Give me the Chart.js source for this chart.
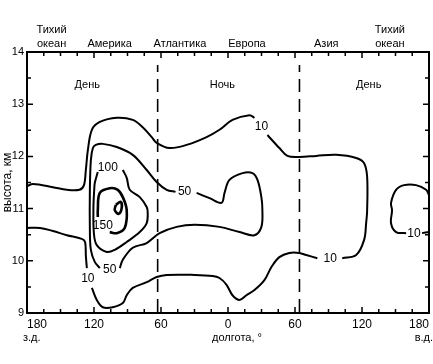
<!DOCTYPE html>
<html>
<head>
<meta charset="utf-8">
<script src="https://cdn.jsdelivr.net/npm/chart.js@4/dist/chart.umd.min.js"></script>
<style>
  html, body { margin: 0; padding: 0; background: #fff; }
  #wrap { width: 433px; height: 364px; }
</style>
</head>
<body>
<div id="wrap"><canvas id="chart" width="433" height="364"></canvas></div>
<script>
// axis ticks
const lonTicks = [-180, -120, -60, 0, 60, 120, 180];
const altTicks = [9, 10, 11, 12, 13, 14];

// labels over the plot
const regionNames = [["Тихий", "океан"], ["Америка"], ["Атлантика"], ["Европа"], ["Азия"], ["Тихий", "океан"]];
const regionLon = [-158, -106, -43, 17, 88, 145];
const dayNight = ["День", "Ночь", "День"];
const dayNightLon = [-126, -5, 126];
const terminatorLon = [-63, 64];

// contour lines [longitude, altitude km], split where the labels sit
const c10a = [[-180, 11.43], [-174.6, 11.47], [-156.8, 11.41], [-144.3, 11.36], [-133, 11.36], [-129, 11.45],
  [-127.3, 11.74], [-125.5, 12.12], [-121.9, 12.51], [-114.8, 12.66], [-99.6, 12.74], [-85.3, 12.7],
  [-76.4, 12.56], [-68.3, 12.37], [-63.9, 12.26], [-52.3, 12.16], [-37.1, 12.22], [-19.2, 12.37],
  [-7.6, 12.51], [4, 12.7], [19.2, 12.79], [23.7, 12.74]];
const c10b = [[35.3, 12.41], [46, 12.16], [53.2, 12.01], [63.9, 11.99], [79.1, 12.01], [96.9, 12.03],
  [114.8, 11.97], [121.9, 11.87], [124.6, 11.61], [124.6, 10.97], [123.7, 10.72], [121.9, 10.4],
  [114.8, 10.11], [102.3, 10.05]];
const c10c = [[80, 10.05], [70.1, 10.11], [63.9, 10.15], [54.9, 10.15], [46, 10.07], [38.9, 9.88],
  [32.6, 9.63], [23.7, 9.44], [16.5, 9.34], [10.3, 9.25], [4, 9.34], [-1.3, 9.54], [-7.6, 9.67],
  [-13.8, 9.71], [-29.9, 9.73], [-54.9, 9.73], [-63.9, 9.69], [-72.8, 9.59], [-85.3, 9.48],
  [-90.7, 9.34], [-94.2, 9.19], [-103.2, 9.11], [-112.1, 9.11], [-117.5, 9.25], [-121.9, 9.48]];
const c10d = [[-126.4, 9.86], [-127.3, 10.1], [-128, 10.36], [-131, 10.42], [-144.3, 10.49],
  [-156.8, 10.57], [-168.4, 10.63], [-180, 10.63]];
const c10e = [[180, 11.26], [177.4, 11.36], [168.4, 11.45], [157.7, 11.45], [150.5, 11.36], [146, 11.11],
  [146.9, 10.97], [146, 10.72], [150.5, 10.55], [159.5, 10.53]];
const c10f = [[173.8, 10.53], [180, 10.55]];
const c50a = [[-28.1, 11.3], [-16.5, 11.2], [-5.8, 11.11], [-3.1, 11.3], [1.3, 11.55], [13, 11.68],
  [21.9, 11.68], [26.4, 11.55], [29.9, 11.22], [30.8, 10.97], [29.9, 10.65], [23.7, 10.49],
  [10.3, 10.55], [-7.6, 10.65], [-29.9, 10.69], [-46, 10.65], [-61.2, 10.53], [-72.8, 10.34],
  [-85.3, 10.25], [-94.2, 10.02], [-96.9, 9.86]];
const c50b = [[-114.8, 9.86], [-119.3, 9.98], [-122.8, 10.21], [-123.7, 10.59], [-123.7, 11.36],
  [-122.8, 11.93], [-121, 12.16], [-118.4, 12.22], [-112.1, 12.24], [-99.6, 12.18], [-85.3, 12.03],
  [-72.8, 11.74], [-63.9, 11.51], [-54.9, 11.36], [-47, 11.32]];
const c100 = [[-94.2, 11.74], [-90.7, 11.59], [-88, 11.36], [-79, 11.22], [-72.8, 11.03], [-71.9, 10.92],
  [-72.8, 10.72], [-79, 10.55], [-90.7, 10.36], [-101.4, 10.21], [-108.5, 10.17], [-117.5, 10.3],
  [-120.1, 10.53], [-120.5, 11.03], [-119.8, 11.36], [-119.3, 11.49], [-116.6, 11.7]];
const c150 = [[-105.9, 10.55], [-99.6, 10.53], [-92.5, 10.63], [-90.7, 10.97], [-94.2, 11.22],
  [-98.7, 11.36], [-105.9, 11.39], [-114.8, 11.3], [-116.6, 10.97], [-116.6, 10.84]];
const cCore = [[-100.5, 11.07], [-96.1, 11.13], [-95.2, 11.01], [-97.8, 10.9], [-101.4, 10.97], [-100.5, 11.07]];

const levelText = ["10", "10", "10", "10", "50", "50", "100", "150"];
const levelLon = [29.9, 91.5, -125.5, 166.6, -38.9, -105.9, -107.6, -112.1];
const levelAlt = [12.56, 10.05, 9.65, 10.51, 11.32, 9.83, 11.79, 10.67];

const FONT = "'Liberation Sans', Arial, sans-serif";

function line(points, width) {
  return {
    data: points.map(([x, y]) => ({ x, y })),
    showLine: true,
    borderColor: "#000",
    borderWidth: width,
    pointRadius: 0,
    tension: 0.35,
    fill: false,
  };
}

const datasets = [c10a, c10b, c10c, c10d, c10e, c10f, c50a, c50b, c100].map((p) => line(p, 2));
datasets.push(line(c150, 2.6), line(cCore, 2.6));
terminatorLon.forEach((lon) => {
  datasets.push({
    data: [{ x: lon, y: 9.02 }, { x: lon, y: 13.75 }],
    showLine: true,
    borderColor: "#000",
    borderWidth: 1.6,
    borderDash: [13, 7],
    pointRadius: 0,
  });
});

// frame, inward ticks and text labels
const decor = {
  id: "decor",
  afterDatasetsDraw(chart) {
    const { ctx, chartArea: a, scales } = chart;
    const x = scales.x, y = scales.y;
    ctx.save();
    ctx.strokeStyle = "#000";
    ctx.lineWidth = 2;
    ctx.strokeRect(a.left, a.top, a.right - a.left, a.bottom - a.top);
    ctx.lineWidth = 1.5;
    ctx.beginPath();
    for (let v = -180; v <= 180; v += 15) {
      const px = x.getPixelForValue(v);
      const len = v % 60 === 0 ? 6 : 4;
      ctx.moveTo(px, a.bottom); ctx.lineTo(px, a.bottom - len);
      ctx.moveTo(px, a.top); ctx.lineTo(px, a.top + len);
    }
    for (let v = 9; v <= 14; v += 0.5) {
      const py = y.getPixelForValue(v);
      const len = Number.isInteger(v) ? 6 : 4;
      ctx.moveTo(a.left, py); ctx.lineTo(a.left + len, py);
      ctx.moveTo(a.right, py); ctx.lineTo(a.right - len, py);
    }
    ctx.stroke();

    ctx.fillStyle = "#000";
    ctx.font = "11px " + FONT;
    ctx.textAlign = "center";
    ctx.textBaseline = "alphabetic";
    regionNames.forEach((lines, i) => {
      const px = x.getPixelForValue(regionLon[i]);
      lines.forEach((t, j) => {
        ctx.fillText(t, px, 47 - (lines.length - 1 - j) * 14);
      });
    });
    ctx.textBaseline = "middle";
    dayNight.forEach((t, i) => {
      ctx.fillText(t, x.getPixelForValue(dayNightLon[i]), y.getPixelForValue(13.37));
    });
    ctx.font = "12px " + FONT;
    levelText.forEach((t, i) => {
      ctx.fillText(t, x.getPixelForValue(levelLon[i]), y.getPixelForValue(levelAlt[i]));
    });

    ctx.font = "11px " + FONT;
    ctx.textBaseline = "middle";
    ctx.fillText("долгота, °", 237, 338);
    ctx.textAlign = "left";
    ctx.fillText("з.д.", 23, 338);
    ctx.textAlign = "right";
    ctx.fillText("в.д.", 433, 338);
    ctx.restore();
  },
};

new Chart(document.getElementById("chart"), {
  type: "scatter",
  data: { datasets },
  options: {
    responsive: false,
    animation: false,
    events: [],
    layout: { padding: { top: 52, right: 3, left: 0, bottom: 0 } },
    plugins: { legend: { display: false }, tooltip: { enabled: false } },
    scales: {
      x: {
        type: "linear",
        min: -180,
        max: 180,
        afterBuildTicks: (s) => { s.ticks = lonTicks.map((v) => ({ value: v })); },
        afterFit: (s) => { s.height = 51; },
        grid: { display: false, drawTicks: false },
        border: { display: false },
        ticks: {
          align: "inner",
          maxRotation: 0,
          padding: 4,
          color: "#000",
          font: { family: FONT, size: 12 },
          callback: (v) => String(Math.abs(v)),
        },
      },
      y: {
        type: "linear",
        min: 9,
        max: 14,
        afterBuildTicks: (s) => { s.ticks = altTicks.map((v) => ({ value: v })); },
        afterFit: (s) => { s.width = 27; },
        grid: { display: false, drawTicks: false },
        border: { display: false },
        ticks: { padding: 3, color: "#000", font: { family: FONT, size: 11 } },
        title: {
          display: true,
          text: "высота, км",
          color: "#000",
          font: { family: FONT, size: 12 },
          padding: { top: 0, bottom: 0 },
        },
      },
    },
  },
  plugins: [decor],
});
</script>
</body>
</html>
